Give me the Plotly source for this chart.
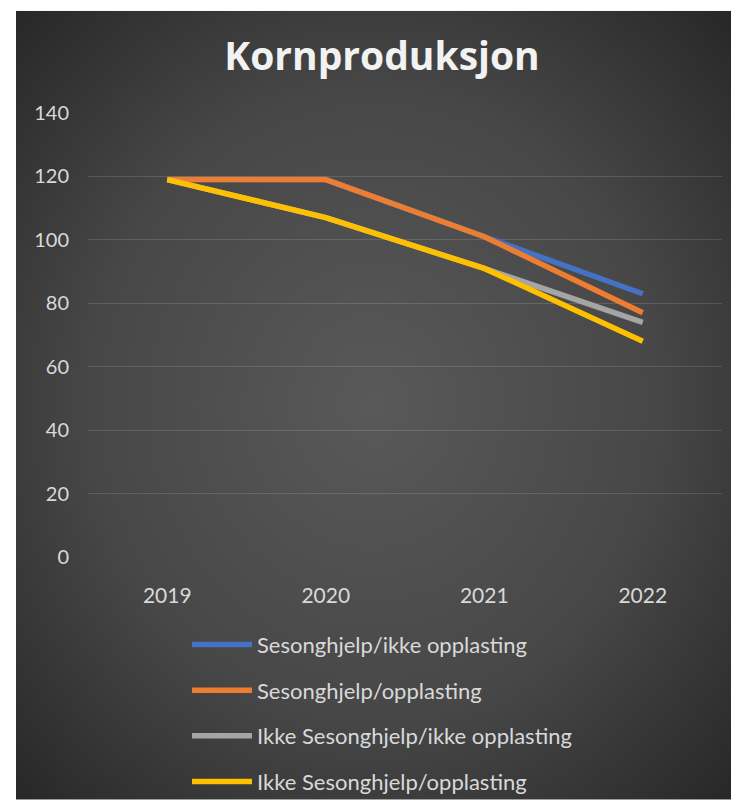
import base64
import plotly.graph_objects as go

years = ["2019", "2020", "2021", "2022"]
series_names = [
    "Sesonghjelp/ikke opplasting",
    "Sesonghjelp/opplasting",
    "Ikke Sesonghjelp/ikke opplasting",
    "Ikke Sesonghjelp/opplasting",
]
blue_vals = [119, 119, 101, 83]
orange_vals = [119, 119, 101, 77]
gray_vals = [119, 107, 91, 74]
yellow_vals = [119, 107, 91, 68]
y_ticks = [0, 20, 40, 60, 80, 100, 120, 140]

colors = ["#4472C4", "#ED7D31", "#A5A5A5", "#FFC000"]
values = [blue_vals, orange_vals, gray_vals, yellow_vals]

W, H = 731, 812
L, R, T, B = 88, 9, 113, 247
BOX_X, BOX_Y = 16, 9

svg = """<svg xmlns='http://www.w3.org/2000/svg' width='715' height='803' viewBox='0 0 715 803' preserveAspectRatio='none'>
<defs><radialGradient id='g' cx='0.5' cy='0.5' r='0.72' fx='0.5' fy='0.5'>
<stop offset='0' stop-color='#595959'/><stop offset='0.55' stop-color='#474747'/><stop offset='1' stop-color='#262626'/>
</radialGradient></defs><rect width='715' height='803' fill='url(#g)'/></svg>"""
src = "data:image/svg+xml;base64," + base64.b64encode(svg.encode()).decode()

pw = W - L - R
ph = H - T - B

fig = go.Figure()
for i, (name, vals, c) in enumerate(zip(series_names, values, colors)):
    fig.add_trace(go.Scatter(
        x=years, y=vals, mode="lines", name=name,
        line=dict(color=c, width=5.5),
        legendgroup="g%d" % i,
    ))

fig.add_layout_image(dict(
    source=src, xref="paper", yref="paper",
    x=(BOX_X - L) / pw, y=(H - B - BOX_Y) / ph,
    sizex=(W - BOX_X) / pw, sizey=(H - BOX_Y) / ph,
    xanchor="left", yanchor="top", sizing="stretch", layer="below",
))

fig.update_layout(
    width=W, height=H,
    margin=dict(l=L, r=R, t=T, b=B, pad=0),
    paper_bgcolor="white",
    plot_bgcolor="rgba(0,0,0,0)",
    title=dict(
        text="<b>Kornproduksjon</b>",
        x=382 / W, xanchor="center",
        y=1 - 56 / H, yanchor="middle",
        font=dict(family="Open Sans", size=39, color="#f2f2f2"),
    ),
    font=dict(family="Lato", color="#d9d9d9"),
    xaxis=dict(
        type="category", showgrid=False, zeroline=False, showline=False,
        ticks="", tickfont=dict(size=21, color="#d9d9d9"),
        range=[-0.5, 3.5], ticklabelstandoff=24,
    ),
    yaxis=dict(
        range=[0, 140], tickvals=y_ticks, showgrid=True,
        gridcolor="rgba(255,255,255,0.13)", gridwidth=1,
        zeroline=False, showline=False, ticks="",
        tickfont=dict(size=20, color="#d9d9d9"),
        ticklabelstandoff=18,
    ),
    showlegend=True,
    legend=dict(
        orientation="v", x=(187 - L) / pw, xanchor="left",
        y=-(633 - (H - B)) / ph, yanchor="top",
        font=dict(family="Lato", size=22, color="#d9d9d9"),
        bgcolor="rgba(0,0,0,0)", itemwidth=60,
        tracegroupgap=14,
    ),
)

fig.write_html(
    "out.html",
    config={"displayModeBar": False},
    post_script="document.body.style.margin='0';document.body.style.overflow='hidden';",
)
